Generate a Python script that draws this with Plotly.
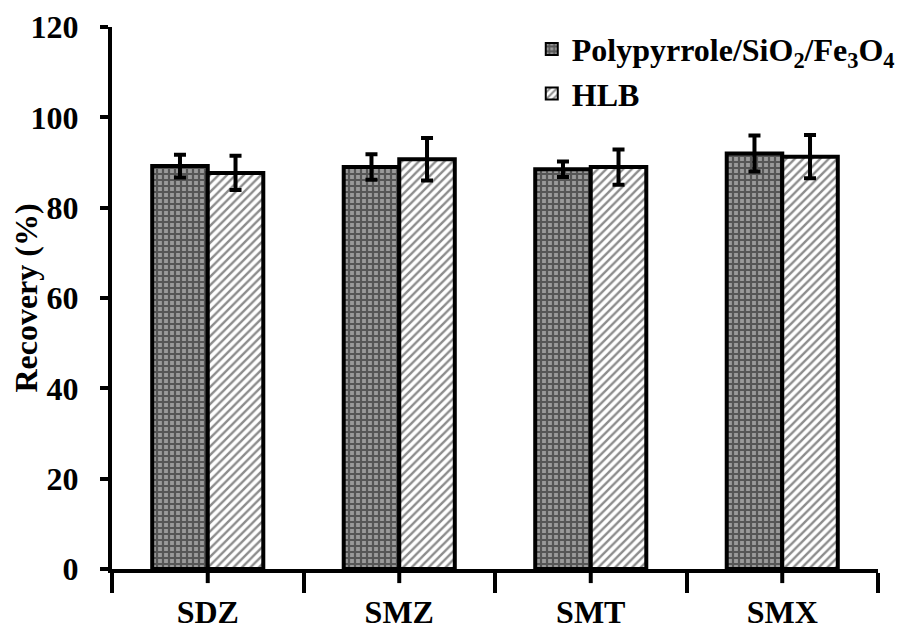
import plotly.graph_objects as go

categories = ["SDZ", "SMZ", "SMT", "SMX"]
poly_values = [89.2, 89.0, 88.5, 92.0]
poly_errors = [2.5, 2.8, 1.7, 4.0]
hlb_values = [87.7, 90.7, 89.0, 91.3]
hlb_errors = [3.8, 4.7, 3.9, 4.8]
y_ticks = [0, 20, 40, 60, 80, 100, 120]

FONT = "Liberation Serif"

fig = go.Figure()
fig.add_trace(go.Bar(
    name="Polypyrrole/SiO<sub>2</sub>/Fe<sub>3</sub>O<sub>4</sub>",
    x=categories, y=poly_values,
    error_y=dict(type="data", array=poly_errors, visible=True,
                 color="black", thickness=4, width=6),
    marker=dict(color="#222222",
                line=dict(color="black", width=4),
                pattern=dict(shape="+", fgcolor="#111111", bgcolor="#9a9a9a",
                             size=6, solidity=0.6)),
))
fig.add_trace(go.Bar(
    name="HLB",
    x=categories, y=hlb_values,
    error_y=dict(type="data", array=hlb_errors, visible=True,
                 color="black", thickness=4, width=6),
    marker=dict(color="white",
                line=dict(color="black", width=4),
                pattern=dict(shape="/", fgcolor="#1a1a1a", bgcolor="white",
                             size=6, solidity=0.4)),
))

# short ticks at category centres
for c in categories:
    fig.add_shape(type="line", xref="x", yref="paper", x0=c, x1=c,
                  y0=0, y1=-0.026, line=dict(color="black", width=4))

fig.update_layout(
    width=904, height=622,
    margin=dict(l=104, r=28, t=19, b=61),
    paper_bgcolor="white", plot_bgcolor="white",
    barmode="group", bargap=0.42, bargroupgap=0,
    font=dict(family=FONT, color="black"),
    showlegend=True,
    legend=dict(x=0.548, y=1.01, xanchor="left", yanchor="top",
                font=dict(family=FONT, size=32, color="black", weight="bold"),
                bgcolor="rgba(0,0,0,0)", itemsizing="constant",
                tracegroupgap=0),
    xaxis=dict(
        type="category", showline=True, linecolor="black", linewidth=4,
        ticks="outside", tickson="boundaries", ticklen=20, tickwidth=4,
        tickcolor="black", showgrid=False, automargin=False,
        ticklabelstandoff=12,
        tickfont=dict(family=FONT, size=32, color="black", weight="bold"),
    ),
    yaxis=dict(
        range=[0, 120], tickvals=y_ticks, showline=True, linecolor="black",
        linewidth=4, ticks="outside", ticklen=8, tickwidth=4, tickcolor="black",
        showgrid=False, zeroline=False, ticklabelstandoff=15, automargin=False,
        tickfont=dict(family=FONT, size=32, color="black", weight="bold"),
        title=dict(text="Recovery (%)", standoff=12,
                   font=dict(family=FONT, size=32, color="black", weight="bold")),
    ),
)

fig.write_html("out.html")
